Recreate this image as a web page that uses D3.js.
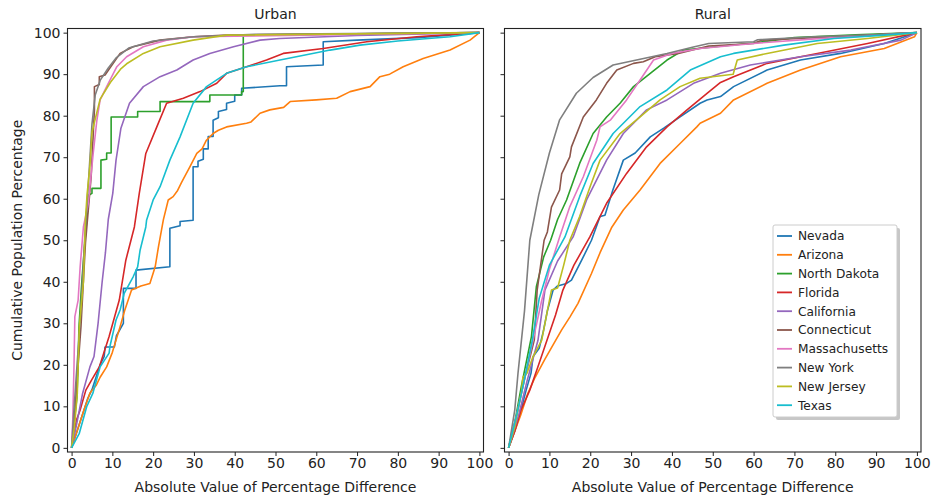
<!DOCTYPE html>
<html>
<head>
<meta charset="utf-8">
<script src="https://cdn.jsdelivr.net/npm/d3@7"></script>
<style>
  html, body { margin: 0; padding: 0; background: #fff; }
  svg { display: block; font-family: "DejaVu Sans", sans-serif; }
</style>
</head>
<body>
<svg id="chart" width="934" height="499"></svg>
<script>
// ---------------- data ----------------
const states = ["Nevada", "Arizona", "North Dakota", "Florida", "California",
  "Connecticut", "Massachusetts", "New York", "New Jersey", "Texas"];
const colors = ["#1f77b4", "#ff7f0e", "#2ca02c", "#d62728", "#9467bd",
  "#8c564b", "#e377c2", "#7f7f7f", "#bcbd22", "#17becf"];
const tickValues = [0, 10, 20, 30, 40, 50, 60, 70, 80, 90, 100];
const panelTitles = ["Urban", "Rural"];

// Urban curves: [absolute % difference, cumulative population %]
const urbanNevada = [[0,0],[1,3],[2,6],[3,9],[4,12],[5,14],[6,17],[7,20],[8,22],[8.2,24.3],[10.5,24.3],[11,27],[12.7,30],[12.7,38.4],[15.8,38.4],[15.8,42.8],[24.1,43.6],[24.1,52.9],[26.6,53.5],[26.6,54.5],[29.8,54.8],[29.8,67.7],[31,67.7],[31,69],[32.3,69.5],[32.3,72],[33.5,72],[33.5,75],[34.7,75],[34.7,78.9],[36,79.5],[36,81],[38,81.5],[38,83],[40,83.5],[40,85],[41.7,85],[41.7,86.6],[51.1,87.2],[52.7,87.2],[52.7,91.8],[61.7,92.2],[61.7,97.8],[70,98.2],[85,98.8],[100,100]];
const urbanArizona = [[0,0],[1,3],[2,6],[3,9],[4.5,13.2],[6,15],[7,17],[8.6,19.5],[10,23],[11.9,29.2],[13,33],[14.7,38],[17,39],[19.2,39.6],[20.5,43.6],[21.3,48.4],[22.5,54.9],[23.7,59.7],[24.9,60.5],[26,62],[27,64],[29,67.7],[30.7,70.9],[32,72],[33,74],[34.7,75.7],[36,76.5],[38,77.3],[42.9,78.2],[44,78.5],[46.2,80.6],[48.6,81.4],[52,82],[53.6,83.4],[60,83.8],[65,84.2],[68.3,85.8],[73.2,87],[75.6,89.4],[78,90],[81.3,91.8],[86.2,93.8],[92.8,95.8],[97.7,98.2],[100,100]];
const urbanNorthDakota = [[0,0],[0.5,5],[1.3,12],[1.6,20],[1.8,29],[2.5,40],[3.3,50],[4,58],[4.3,60.9],[5,61.3],[5,62.5],[7.2,62.5],[7.2,69.3],[8.6,69.5],[8.6,71],[9.7,71],[9.7,79.7],[16.2,79.7],[16.2,81],[21.7,81],[21.7,83.4],[33.9,83.4],[33.9,85],[41.7,85],[41.7,85.8],[42.1,85.8],[42.1,99.4],[60,99.6],[100,100]];
const urbanFlorida = [[0,0],[1.2,6.7],[2.1,9.1],[3.5,13.9],[5,16.5],[6.8,19.5],[9.2,26.8],[11.7,35.6],[13.3,45.2],[15.4,53.2],[16.6,61.3],[18.2,70.9],[20.9,77.3],[23.3,83],[27.4,84.2],[31.5,85.8],[35.6,87.8],[38,90.2],[42.9,91.8],[47.8,93.4],[51.9,95],[61.7,96.2],[72.4,97.8],[84.6,99],[100,100]];
const urbanCalifornia = [[0,0],[1.1,5],[2.7,13.1],[4.5,19.5],[5.5,22],[6.5,30],[7.5,40],[8.3,47],[9,55],[10.1,61.3],[10.9,69.3],[12.1,77],[14.2,83],[17.6,87],[21.7,89.4],[25.8,91],[29.8,93.4],[33.9,95],[39.7,96.6],[46.2,98.2],[51,98.6],[70,99.3],[100,100]];
const urbanConnecticut = [[0,0],[0.5,5],[1.1,13.1],[2.3,29.2],[3.4,49.3],[4.8,65.3],[5.6,81.4],[5.6,87],[6.8,87.5],[6.8,89.4],[8.2,89.8],[10.2,92.6],[11.9,95],[15.1,96.6],[21.7,98.2],[29.8,99],[38,99.4],[100,100]];
const urbanMassachusetts = [[0,0],[0.3,7],[0.6,20],[0.8,31.6],[1.6,35.5],[2.1,43.6],[2.9,53.2],[4.1,58.9],[5.3,70.9],[6.2,78.9],[7,83.8],[8.6,87],[11.1,91.8],[13.5,94.2],[17.6,96.6],[23.3,98.2],[29.8,99],[100,100]];
const urbanNewYork = [[0,0],[0.5,8],[1.2,18],[2.2,32],[3.2,50],[4.2,65],[5,78],[5.8,85],[7,88.5],[9,91.5],[11,94],[14,96.3],[20,98],[30,99],[45,99.6],[100,100]];
const urbanNewJersey = [[0,0],[0.7,5],[1.4,13],[1.9,29.2],[2.9,40],[3.4,55],[3.8,61],[4.5,68],[5,76],[7,84],[9.5,88],[12,91.2],[13.5,92.5],[17.6,95],[21.7,96.6],[29.8,98.2],[38,99.4],[100,100]];
const urbanTexas = [[0,0],[1.9,3.5],[3.7,9.9],[5.2,13.1],[7,19.5],[9.2,22.8],[9.4,24.4],[10.9,30.8],[11.9,33.2],[12.9,37.2],[15.1,41.2],[16.2,43.6],[16.8,47.6],[18.2,53.2],[18.4,54.9],[20,59.7],[21.7,62.9],[24.1,69.3],[26.6,74.9],[29.8,83],[33.1,87],[38,90.2],[42.9,91.8],[51.1,93.4],[63.4,95.8],[70.7,97],[80,98],[92.8,99],[100,100]];

// Rural curves
const ruralNevada = [[0,0],[1.5,4],[3,9],[4.3,13.9],[5.5,18],[6,22],[7.5,24],[8.5,28],[9.5,33],[10.9,38],[12,39],[14.2,39.6],[15.4,40.4],[17.9,45.2],[20.3,50],[22.4,55.7],[23.6,56],[25.5,62],[28.1,69.3],[31,71],[34.7,74.9],[38,77],[42,79.7],[46.9,83],[48.6,83.8],[51.9,84.6],[55.1,87],[63.3,91],[71.5,93.4],[81.3,95],[92,97.4],[100,100]];
const ruralArizona = [[0,0],[1.5,4],[3,8],[4.7,13.1],[6.5,17],[8.8,21.2],[11,25],[13,28.4],[15,31.5],[17,34.8],[20.3,42],[22.4,47],[25.2,53],[28.1,57.3],[32.2,62.1],[37.1,68.5],[42,73.3],[46.1,77.3],[46.9,78.2],[51.9,80.6],[55.1,83.8],[63.3,87.8],[71.5,91],[81.3,94.2],[92,96.2],[99.4,99],[100,100]];
const ruralNorthDakota = [[0,0],[1.5,6],[3.1,14.7],[5.6,26.8],[6.8,38.8],[8.6,46],[10.3,50],[12,55],[14.2,59.7],[17.4,68.5],[20.7,75.7],[24,79.7],[27.3,83],[30.6,87],[34.7,90.2],[38.8,93.4],[42.8,95.8],[50.6,96.6],[60,97.5],[70,98.8],[85,99.5],[100,100]];
const ruralFlorida = [[0,0],[1.5,4],[3,9],[5.2,13.9],[7,19],[9.4,25.9],[11.5,32],[13.3,38],[16,44],[19.9,50.8],[24,58.9],[28.9,66.1],[33.8,72.5],[38.8,77.3],[43.7,81.4],[48.6,85.4],[51.9,88],[55.1,89.4],[63.3,92.6],[75.6,95],[87.9,97.4],[100,100]];
const ruralCalifornia = [[0,0],[2.5,8],[4.5,16],[7.2,25.9],[8.9,38],[12,45],[15.8,50.8],[19.1,59.7],[24,69.3],[28.1,75.7],[33.8,81.4],[38.8,83.8],[45.3,87.8],[51.9,90.2],[59.2,92.2],[71.5,94.2],[83.8,95.8],[96.1,98.2],[100,100]];
const ruralConnecticut = [[0,0],[2,8],[4,17],[6.3,26],[7,38],[8.7,50],[9.5,52],[10.5,58],[12.5,62.1],[13,66],[15,70.1],[15.4,72.5],[18.3,79.7],[21.5,83.8],[24,87.8],[26.5,91],[30.6,92.6],[33,93],[35.9,94.2],[41.6,95],[49,96.8],[60,97.4],[62,98.2],[80,99],[100,100]];
const ruralMassachusetts = [[0,0],[2,8],[4,17],[6,26],[8,35],[10,43],[12.5,50.8],[15,58.1],[18.3,65.3],[21.6,74.1],[22.4,77.3],[25,79],[28.9,83.8],[32.2,88.6],[35.5,93.4],[40,95],[46.9,96.2],[60,97.4],[75,98.5],[100,100]];
const ruralNewYork = [[0,0],[1.5,9],[2.3,17.9],[3.9,33],[5.2,50],[7.4,61],[10,71],[12.5,79],[16.6,85.4],[20.7,89.2],[25.6,92.2],[32.2,93.6],[38.8,95],[45,96.5],[49,97.4],[60,97.8],[61,98.3],[75,99],[90,99.5],[100,100]];
const ruralNewJersey = [[0,0],[1.5,5],[3.2,13.9],[3.5,17],[4.5,18],[6,22],[8.1,25.9],[9.5,33],[10.5,38],[12,38.5],[13.5,44],[15,50],[17.4,55.7],[20,63],[22.4,69.3],[27.3,75.7],[32.2,79.7],[37.1,83.8],[42,87],[46.9,89],[55,90],[56,93.4],[63.3,95],[75.6,97.4],[87.9,98.6],[100,100]];
const ruralTexas = [[0,0],[2,8],[4,17],[5.8,25.9],[7.5,36],[10,44],[13.8,50.8],[17.4,60.5],[20.7,68.5],[25.6,75.7],[32.2,82.2],[38.8,86.2],[44.5,91],[51.9,94.2],[55.1,95],[67.4,97],[79.7,98.6],[92,99.4],[100,100]];

const urbanSeries = [urbanNevada, urbanArizona, urbanNorthDakota, urbanFlorida, urbanCalifornia,
  urbanConnecticut, urbanMassachusetts, urbanNewYork, urbanNewJersey, urbanTexas];
const ruralSeries = [ruralNevada, ruralArizona, ruralNorthDakota, ruralFlorida, ruralCalifornia,
  ruralConnecticut, ruralMassachusetts, ruralNewYork, ruralNewJersey, ruralTexas];

// ---------------- drawing ----------------
const svg = d3.select("#chart");
const plotTop = 28.5, plotBottom = 452;
const panels = [
  { title: panelTitles[0], x0: 67.5, x1: 483.5, series: urbanSeries, yLabels: true },
  { title: panelTitles[1], x0: 504.5, x1: 921, series: ruralSeries, yLabels: false }
];
const y = d3.scaleLinear().domain([-1, 101]).range([plotBottom, plotTop]);

panels.forEach((p, pi) => {
  const x = d3.scaleLinear().domain([-1, 101]).range([p.x0, p.x1]);
  const g = svg.append("g");
  const clipId = "clip" + pi;
  svg.append("clipPath").attr("id", clipId).append("rect")
    .attr("x", p.x0).attr("y", plotTop).attr("width", p.x1 - p.x0).attr("height", plotBottom - plotTop);

  const line = d3.line().x(d => x(d[0])).y(d => y(d[1]));
  const lg = g.append("g").attr("clip-path", `url(#${clipId})`);
  p.series.forEach((s, i) => {
    lg.append("path").datum(s)
      .attr("d", line)
      .attr("fill", "none")
      .attr("stroke", colors[i])
      .attr("stroke-width", 1.6)
      .attr("stroke-linejoin", "round");
  });

  // axes
  const xAxis = d3.axisBottom(x).tickValues(tickValues).tickSize(4).tickPadding(2);
  const xg = g.append("g").attr("transform", `translate(0,${plotBottom})`).call(xAxis);
  const yAxis = d3.axisLeft(y).tickValues(tickValues).tickSize(4).tickPadding(3)
    .tickFormat(p.yLabels ? d3.format("d") : () => "");
  const yg = g.append("g").attr("transform", `translate(${p.x0},0)`).call(yAxis);
  [xg, yg].forEach(a => {
    a.select(".domain").remove();
    a.selectAll(".tick line").attr("stroke", "#222").attr("stroke-width", 1);
    a.selectAll(".tick text").attr("fill", "#222").style("font-size", "14px")
      .style("font-family", "'DejaVu Sans', sans-serif");
  });

  // spines
  g.append("rect").attr("x", p.x0).attr("y", plotTop)
    .attr("width", p.x1 - p.x0).attr("height", plotBottom - plotTop)
    .attr("fill", "none").attr("stroke", "#222").attr("stroke-width", 1.1);

  // title
  g.append("text").attr("x", (p.x0 + p.x1) / 2).attr("y", 19)
    .attr("text-anchor", "middle").attr("fill", "#222").style("font-size", "14px")
    .text(p.title);

  // x label
  g.append("text").attr("x", (p.x0 + p.x1) / 2).attr("y", 492)
    .attr("text-anchor", "middle").attr("fill", "#222").style("font-size", "14px")
    .text("Absolute Value of Percentage Difference");

  if (pi === 1) {
    // legend
    const lx = 773, ly = 225, lw = 124, lh = 192;
    const leg = g.append("g");
    leg.append("rect").attr("x", lx + 3).attr("y", ly + 3).attr("width", lw).attr("height", lh)
      .attr("rx", 2).attr("fill", "#999").attr("opacity", 0.55);
    leg.append("rect").attr("x", lx).attr("y", ly).attr("width", lw).attr("height", lh)
      .attr("rx", 2).attr("fill", "#fff").attr("stroke", "#ccc").attr("stroke-width", 1);
    states.forEach((s, i) => {
      const yy = ly + 11 + i * 18.8;
      leg.append("line").attr("x1", lx + 4).attr("x2", lx + 19).attr("y1", yy).attr("y2", yy)
        .attr("stroke", colors[i]).attr("stroke-width", 1.8);
      leg.append("text").attr("x", lx + 25).attr("y", yy + 4.3)
        .attr("fill", "#222").style("font-size", "12.2px").text(s);
    });
  }
});

// y label
svg.append("text")
  .attr("transform", `translate(22,${(plotTop + plotBottom) / 2}) rotate(-90)`)
  .attr("text-anchor", "middle").attr("fill", "#222").style("font-size", "14px")
  .text("Cumulative Population Percentage");
</script>
</body>
</html>
